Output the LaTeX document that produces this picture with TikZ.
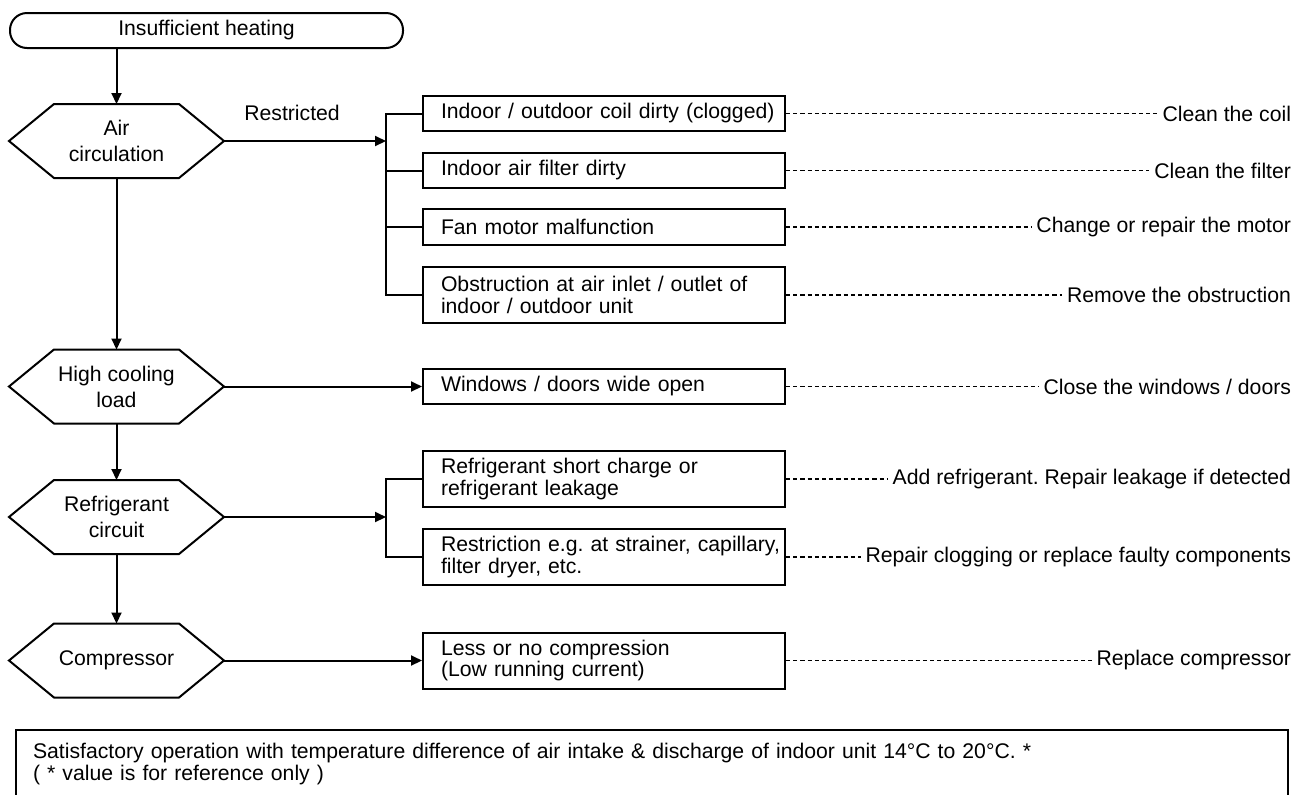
\documentclass[tikz,border=0pt]{standalone}
\usepackage{fontspec}
\setmainfont{Liberation Sans}
\usetikzlibrary{arrows.meta,calc}
% hexagonal decision outline around a (rectangular, undrawn) node
\newcommand\hexoutline[1]{%
  \draw (#1.west) -- ($(#1.north west)+(45,0)$) -- ($(#1.north east)+(-45,0)$)
    -- (#1.east) -- ($(#1.south east)+(-45,0)$) -- ($(#1.south west)+(45,0)$) -- cycle;}
\begin{document}
\frenchspacing
\begin{tikzpicture}[x=0.5pt,y=-0.5pt,
  font=\fontsize{10.6}{10.6}\selectfont,
  line width=1pt,
  >={Triangle[length=5.5pt,width=5pt]},
  terminal/.style={draw, rounded corners=8.5pt, minimum width=196.5pt,
    minimum height=17.5pt, inner sep=0pt},
  hexbox/.style={minimum width=106.5pt, minimum height=36pt, inner sep=0pt,
    align=center, font=\fontsize{10.6}{13}\selectfont},
  causebox/.style={draw, anchor=west, minimum height=#1, text width=181pt,
    inner xsep=0pt, inner ysep=0pt, align=left,
    execute at begin node={\leftskip=9pt\relax}},
  causebox/.default=17.5pt,
  action/.style={anchor=east, inner xsep=0pt, inner ysep=0pt},
  fix/.style={line width=0.7pt, dash pattern=on 2.1pt off 1.5pt, shorten >=2pt},
  notebox/.style={draw, anchor=north west, minimum width=636pt, minimum height=34pt,
    text width=619pt, inner xsep=8.5pt, inner ysep=0pt, align=left,
    font=\fontsize{10.6}{11}\selectfont}
]
\useasboundingbox (0,0) rectangle (1296,794);
\clip (0,0) rectangle (1296,794);

% start and decisions
\node[terminal] (start) at (206.5,30.5) {Insufficient heating};
\node[hexbox] (air)  at (116.5,141)   {Air\\circulation};
\node[hexbox] (load) at (116.5,386.5) {High cooling\\load};
\node[hexbox] (ref)  at (116.5,517)   {Refrigerant\\circuit};
\node[hexbox] (comp) at (116.5,660.5) {Compressor};
\hexoutline{air}
\hexoutline{load}
\hexoutline{ref}
\hexoutline{comp}

% causes
\node[causebox]      (coil)   at (422,113.5) {Indoor / outdoor coil dirty (clogged)};
\node[causebox]      (filter) at (422,170.5) {Indoor air filter dirty};
\node[causebox=18pt] (fan)    at (422,227)   {Fan motor malfunction};
\node[causebox=28pt] (obst)   at (422,295)   {Obstruction at air inlet / outlet of\\indoor / outdoor unit};
\node[causebox]      (win)    at (422,386.5) {Windows / doors wide open};
\node[causebox=28pt] (short)  at (422,479)   {Refrigerant short charge or\\refrigerant leakage};
\node[causebox=28pt] (restr)  at (422,557)   {Restriction e.g. at strainer, capillary,\\filter dryer, etc.};
\node[causebox=28pt] (lowc)   at (422,660.5) {Less or no compression\\(Low running current)};

% remedies
\node[action] (a1) at (1292,113.5) {Clean the coil};
\node[action] (a2) at (1292,170.5) {Clean the filter};
\node[action] (a3) at (1292,227)   {Change or repair the motor};
\node[action] (a4) at (1292,295)   {Remove the obstruction};
\node[action] (a5) at (1292,386.5) {Close the windows / doors};
\node[action] (a6) at (1292,479)   {Add refrigerant. Repair leakage if detected};
\node[action] (a7) at (1292,557)   {Repair clogging or replace faulty components};
\node[action] (a8) at (1292,660.5) {Replace compressor};

% branch points
\coordinate (jair) at (386,141);
\coordinate (jref) at (386,517);

% main flow
\draw[->] (air.north |- start.south) -- (air.north);
\draw[->] (air.south) -- (load.north);
\draw[->] (load.south) -- (ref.north);
\draw[->] (ref.south) -- (comp.north);

% to causes
\draw[->] (air.east) -- node[pos=0.42, yshift=14pt] {Restricted} (jair);
\draw (coil.west) -| (jair) |- (obst.west);
\draw (filter.west) -- (filter.west -| jair);
\draw (fan.west) -- (fan.west -| jair);
\draw[->] (load.east) -- (win.west);
\draw[->] (ref.east) -- (jref);
\draw (short.west) -| (jref) |- (restr.west);
\draw[->] (comp.east) -- (lowc.west);

% cause to remedy
\draw[fix] (coil.east)   -- (a1.west);
\draw[fix] (filter.east) -- (a2.west);
\draw[fix] (fan.east)    -- (a3.west);
\draw[fix] (obst.east)   -- (a4.west);
\draw[fix] (win.east)    -- (a5.west);
\draw[fix] (short.east)  -- (a6.west);
\draw[fix] (restr.east)  -- (a7.west);
\draw[fix] (lowc.east)   -- (a8.west);

% footnote
\node[notebox] (note) at (15,729) {Satisfactory operation with temperature difference of air intake \& discharge of indoor unit 14°C to 20°C. *\\( * value is for reference only )};
\end{tikzpicture}
\end{document}
